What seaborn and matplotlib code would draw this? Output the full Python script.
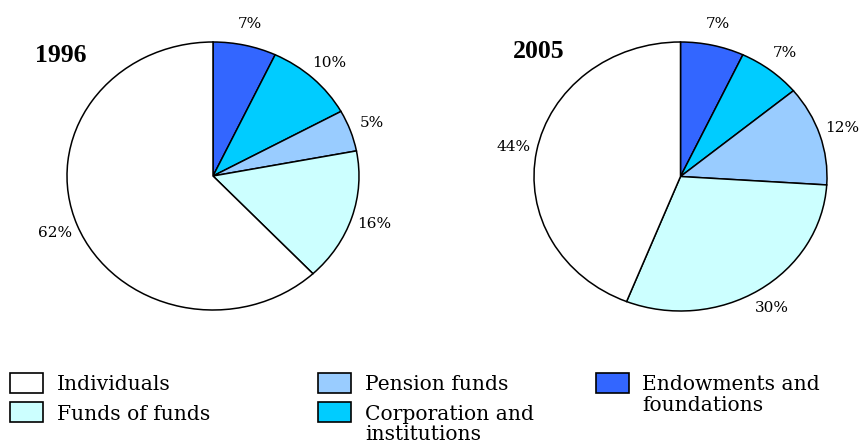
import matplotlib
matplotlib.use("Agg")
import matplotlib.pyplot as plt
from matplotlib.patches import Rectangle
import seaborn as sns

sns.set_theme(style="white")
plt.rcParams['font.family'] = ['DejaVu Serif']

# ---- data ----
categories = ["Endowments and foundations", "Corporation and institutions",
              "Pension funds", "Funds of funds", "Individuals"]
values_1996 = [7, 10, 5, 16, 62]
values_2005 = [7, 7, 12, 30, 44]
years = ["1996", "2005"]
colors = ["#3366FF", "#00CCFF", "#99CCFF", "#CCFFFF", "#FFFFFF"]

legend_order = ["Individuals", "Funds of funds", "Pension funds",
                "Corporation and institutions", "Endowments and foundations"]
legend_text = {
    "Individuals": ["Individuals"],
    "Funds of funds": ["Funds of funds"],
    "Pension funds": ["Pension funds"],
    "Corporation and institutions": ["Corporation and", "institutions"],
    "Endowments and foundations": ["Endowments and", "foundations"],
}

W, H = 861, 443
fig = plt.figure(figsize=(W / 100, H / 100), dpi=100)
fig.patch.set_facecolor("white")


def fx(px):
    return px / W


def fy(py):
    return 1 - py / H


pie_boxes = [(67, 42, 359, 310), (534, 42, 827, 311)]
title_pos = [(35, 55), (513, 52)]

for vals, year, box, tpos in zip([values_1996, values_2005], years, pie_boxes, title_pos):
    x0, y0, x1, y1 = box
    ax = fig.add_axes([fx(x0), fy(y1), fx(x1 - x0), (y1 - y0) / H])
    ax.pie(vals, colors=colors, startangle=90, counterclock=False,
           autopct=lambda p: f"{p:.0f}%", pctdistance=1.16,
           wedgeprops=dict(edgecolor="black", linewidth=1.1, clip_on=False),
           textprops=dict(fontsize=11, color="black", family="DejaVu Serif"))
    ax.set_aspect("auto")
    ax.set_xlim(-1, 1)
    ax.set_ylim(-1, 1)
    ax.axis("off")
    fig.text(fx(tpos[0]), fy(tpos[1]), year, fontsize=18.5, fontweight="bold",
             family="Liberation Serif", ha="left", va="center", color="black")

# ---- legend (manual layout) ----
cmap = dict(zip(categories, colors))
slots = {
    "Individuals": (10, 373, 57),
    "Funds of funds": (10, 402, 57),
    "Pension funds": (318, 373, 365),
    "Corporation and institutions": (318, 402, 365),
    "Endowments and foundations": (596, 373, 642),
}
bw, bh = 33, 20
for name in legend_order:
    bx, by, tx = slots[name]
    fig.add_artist(Rectangle((fx(bx), fy(by + bh)), bw / W, bh / H,
                             transform=fig.transFigure, facecolor=cmap[name],
                             edgecolor="black", linewidth=1.2))
    for i, line in enumerate(legend_text[name]):
        fig.text(fx(tx), fy(by + 17.5 + 20.5 * i), line, fontsize=14.6,
                 ha="left", va="baseline", color="black")

fig.savefig("out.png", dpi=100, facecolor="white")
